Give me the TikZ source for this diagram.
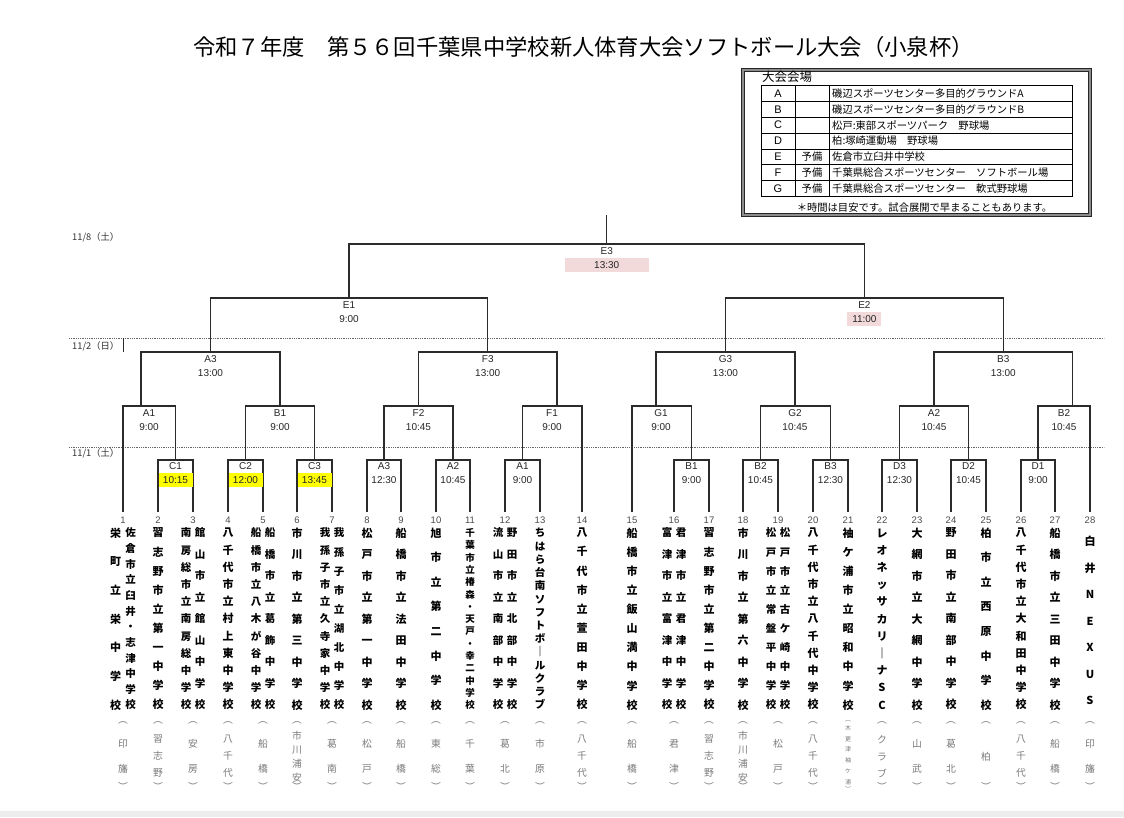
\documentclass[tikz,border=0pt]{standalone}
\usepackage{fontspec}
\newfontfamily\jp{Noto Sans CJK JP}
\newfontfamily\lat{Liberation Sans}
\usetikzlibrary{positioning}
\definecolor{linec}{HTML}{2B2B2B}
\definecolor{hlyellow}{HTML}{FFFF00}
\definecolor{hlpink}{HTML}{F2D9DA}
\definecolor{locgray}{HTML}{7A7A7A}

\begin{document}
\begin{tikzpicture}[x=1pt, y=-1pt,
    brk/.style={draw=linec, line width=1.3pt},
    dayline/.style={draw=black!60, line width=0.7pt, dash pattern=on 0.9pt off 0.9pt},
    mlbl/.style={font=\lat\fontsize{10}{11}\selectfont, text=black!85, inner sep=0pt, text height=7pt, text depth=0pt},
    mtime/.style={mlbl, minimum height=13.5pt},
    nohl/.style={},
    hly/.style={fill=hlyellow, minimum width=34pt},
    hlp/.style={fill=hlpink, minimum width=34pt},
    hlpw/.style={fill=hlpink, minimum width=84pt},
    num/.style={font=\lat\fontsize{9.5}{10}\selectfont, text=black!70, inner sep=0pt},
    tate/.style args={#1/#2}{font=\jp\bfseries\fontsize{#1}{#2}\selectfont, align=center, inner sep=0pt},
    loc/.style={font=\jp\fontsize{9.8}{#1}\selectfont, text=locgray, align=center, inner sep=0pt},
    paren/.style={font=\jp\fontsize{9.8}{10}\selectfont, text=locgray, inner sep=0pt},
    vtxt/.style={font=\jp\fontsize{10.3}{11}\selectfont, inner sep=0pt},
    day/.style={font=\jp\fontsize{9.3}{10}\selectfont, text=black!80, inner sep=0pt, anchor=west}]
    \useasboundingbox (0,0) rectangle (1124,817);
    \fill[white] (0,0) rectangle (1124,817);
    \fill[black!7] (0,811) rectangle (1124,817);

    % title
    \node[font=\jp\fontsize{22.3}{24}\selectfont, inner sep=0pt] (title) at (583.5,47)
        {令和７年度　第５６回千葉県中学校新人体育大会ソフトボール大会（小泉杯）};

    % venue table
    \draw[line width=2.5pt, black!45] (742.5,69.5) rectangle (1089.5,214.5);
    \draw[line width=0.8pt, black!85] (741,68) rectangle (1091,216);
    \draw[line width=0.6pt, black!85] (744,71) rectangle (1088,213);
    \node[font=\jp\fontsize{12.5}{13}\selectfont, inner sep=0pt, anchor=west] (vtitle) at (762,77) {大会会場};
    \draw[line width=0.8pt] (761,85.7) rectangle (1072,196.3);
    \foreach \yy in {101.5,117.3,133.1,148.9,164.7,180.5}
        \draw[line width=0.8pt] (761,\yy) -- (1072,\yy);
    \draw[line width=0.8pt] (795,85.7) -- (795,196.3);
    \draw[line width=0.8pt] (829,85.7) -- (829,196.3);
    \foreach \vk/\yy/\spare/\place in {
        A/93.6//磯辺スポーツセンター多目的グラウンドA,
        B/109.4//磯辺スポーツセンター多目的グラウンドB,
        C/125.2//松戸:東部スポーツパーク　野球場,
        D/141.0//柏:塚崎運動場　野球場,
        E/156.8/予備/佐倉市立臼井中学校,
        F/172.6/予備/千葉県総合スポーツセンター　ソフトボール場,
        G/188.4/予備/千葉県総合スポーツセンター　軟式野球場} {
        \node[font=\lat\fontsize{11}{12}\selectfont, inner sep=0pt] (v\vk) at (778,\yy) {\vk};
        \node[vtxt] (s\vk) at (812,\yy) {\spare};
        \node[vtxt, anchor=west] (p\vk) at (832,\yy) {\place};
    }
    \node[vtxt] (vnote) at (924.5,207.5) {＊時間は目安です。試合展開で早まることもあります。};

    % days
    \node[day] (d8) at (72,237) {11/8（土）};
    \node[day] (d2) at (72,346) {11/2（日）};
    \node[day] (d1) at (72,453) {11/1（土）};
    \draw[dayline] (69,338) -- (1104,338);
    \draw[dayline] (69,447) -- (1104,447);
    \draw[linec, line width=1pt] (123.6,338) -- (123.6,352);

    % teams: numbers and line ends
    \foreach \tno/\tx in {1/123, 2/158, 3/193, 4/228, 5/263, 6/297, 7/332, 8/367,
        9/401, 10/436, 11/470, 12/505, 13/540, 14/582, 15/632, 16/674, 17/709,
        18/743, 19/778, 20/813, 21/848, 22/882, 23/917, 24/951, 25/986, 26/1021,
        27/1055, 28/1090} {
        \coordinate (t\tno) at (\tx,512);
        \node[num] (n\tno) at (\tx,520) {\tno};
    }

    % team names
    \node[tate=10.5/15.64] (s1a) at (130.5,619) {佐\\倉\\市\\立\\臼\\井\\・\\志\\津\\中\\学\\校};
    \node[tate=11/28.67] (s1b) at (115.5,619) {栄\\町\\立\\栄\\中\\学\\校};
    \node[tate=11/19.11] (s2) at (158,619) {習\\志\\野\\市\\立\\第\\一\\中\\学\\校};
    \node[tate=10.5/21.5] (s3a) at (200,619) {館\\山\\市\\立\\館\\山\\中\\学\\校};
    \node[tate=10.5/17.2] (s3b) at (186,619) {南\\房\\総\\市\\立\\南\\房\\総\\中\\学\\校};
    \node[tate=11/17.2] (s4) at (228,619) {八\\千\\代\\市\\立\\村\\上\\東\\中\\学\\校};
    \node[tate=10.5/21.5] (s5a) at (270,619) {船\\橋\\市\\立\\葛\\飾\\中\\学\\校};
    \node[tate=10.5/17.2] (s5b) at (256,619) {船\\橋\\市\\立\\八\\木\\が\\谷\\中\\学\\校};
    \node[tate=11/21.5] (s6) at (297,619) {市\\川\\市\\立\\第\\三\\中\\学\\校};
    \node[tate=10.5/19.11] (s7a) at (339,619) {我\\孫\\子\\市\\立\\湖\\北\\中\\学\\校};
    \node[tate=10.5/17.2] (s7b) at (325,619) {我\\孫\\子\\市\\立\\久\\寺\\家\\中\\学\\校};
    \node[tate=11/21.5] (s8) at (367,619) {松\\戸\\市\\立\\第\\一\\中\\学\\校};
    \node[tate=11/21.5] (s9) at (401,619) {船\\橋\\市\\立\\法\\田\\中\\学\\校};
    \node[tate=11/24.57] (s10) at (436,619) {旭\\市\\立\\第\\二\\中\\学\\校};
    \node[tate=9.5/12.29] (s11) at (470,619) {千\\葉\\市\\立\\椿\\森\\・\\天\\戸\\・\\幸\\二\\中\\学\\校};
    \node[tate=10.5/21.5] (s12a) at (512,619) {野\\田\\市\\立\\北\\部\\中\\学\\校};
    \node[tate=10.5/21.5] (s12b) at (498,619) {流\\山\\市\\立\\南\\部\\中\\学\\校};
    \node[tate=10.5/13.23] (s13) at (540,619) {ち\\は\\ら\\台\\南\\ソ\\フ\\ト\\ボ\\｜\\ル\\ク\\ラ\\ブ};
    \node[tate=11/19.11] (s14) at (582,619) {八\\千\\代\\市\\立\\萱\\田\\中\\学\\校};
    \node[tate=11/19.11] (s15) at (632,619) {船\\橋\\市\\立\\飯\\山\\満\\中\\学\\校};
    \node[tate=10.5/21.5] (s16a) at (681,619) {君\\津\\市\\立\\君\\津\\中\\学\\校};
    \node[tate=10.5/21.5] (s16b) at (667,619) {富\\津\\市\\立\\富\\津\\中\\学\\校};
    \node[tate=11/19.11] (s17) at (709,619) {習\\志\\野\\市\\立\\第\\二\\中\\学\\校};
    \node[tate=11/21.5] (s18) at (743,619) {市\\川\\市\\立\\第\\六\\中\\学\\校};
    \node[tate=10.5/19.11] (s19a) at (785,619) {松\\戸\\市\\立\\古\\ケ\\崎\\中\\学\\校};
    \node[tate=10.5/19.11] (s19b) at (771,619) {松\\戸\\市\\立\\常\\盤\\平\\中\\学\\校};
    \node[tate=11/17.2] (s20) at (813,619) {八\\千\\代\\市\\立\\八\\千\\代\\中\\学\\校};
    \node[tate=11/19.11] (s21) at (848,619) {袖\\ケ\\浦\\市\\立\\昭\\和\\中\\学\\校};
    \node[tate=11/17.2] (s22) at (882,619) {レ\\オ\\ネ\\ッ\\サ\\カ\\リ\\｜\\ナ\\S\\C};
    \node[tate=11/21.5] (s23) at (917,619) {大\\網\\市\\立\\大\\網\\中\\学\\校};
    \node[tate=11/21.5] (s24) at (951,619) {野\\田\\市\\立\\南\\部\\中\\学\\校};
    \node[tate=11/24.57] (s25) at (986,619) {柏\\市\\立\\西\\原\\中\\学\\校};
    \node[tate=11/17.2] (s26) at (1021,619) {八\\千\\代\\市\\立\\大\\和\\田\\中\\学\\校};
    \node[tate=11/21.5] (s27) at (1055,619) {船\\橋\\市\\立\\三\\田\\中\\学\\校};
    \node[tate=11/26.5] (s28) at (1090,620.5) {白\\井\\N\\E\\X\\U\\S};

    % districts
    \foreach \tno/\tx/\tloc/\tsk in {1/123/印\\旛/25, 2/158/習\\志\\野/17, 3/193/安\\房/25,
        4/228/八\\千\\代/17, 5/263/船\\橋/25, 6/297/市\\川\\浦\\安/14, 7/332/葛\\南/25,
        8/367/松\\戸/25, 9/401/船\\橋/25, 10/436/東\\総/25, 11/470/千\\葉/25,
        12/505/葛\\北/25, 13/540/市\\原/25, 14/582/八\\千\\代/17, 15/632/船\\橋/25,
        16/674/君\\津/25, 17/709/習\\志\\野/17, 18/743/市\\川\\浦\\安/14, 19/778/松\\戸/25,
        20/813/八\\千\\代/17, 22/882/ク\\ラ\\ブ/17, 23/917/山\\武/25, 24/951/葛\\北/25,
        25/986/柏/25, 26/1021/八\\千\\代/17, 27/1055/船\\橋/25, 28/1090/印\\旛/25} {
        \node[paren] (po\tno) at (\tx,723) {︵};
        \node[loc=\tsk] (w\tno) at (\tx,756.5) {\tloc};
        \node[paren] (pc\tno) at (\tx,786) {︶};
    }
    \node[paren, font=\jp\fontsize{6}{6}\selectfont] (po21) at (848,721) {︵};
    \node[loc=10.8, font=\jp\fontsize{6}{10.8}\selectfont] (w21) at (848,755) {木\\更\\津\\袖\\ケ\\浦};
    \node[paren, font=\jp\fontsize{6}{6}\selectfont] (pc21) at (848,789) {︶};

    % round 1
    \coordinate (r1-1) at (175.5,460);
    \coordinate (r1-2) at (245.5,460);
    \coordinate (r1-3) at (314.5,460);
    \coordinate (r1-4) at (384,460);
    \coordinate (r1-5) at (453,460);
    \coordinate (r1-6) at (522.5,460);
    \coordinate (r1-7) at (691.5,460);
    \coordinate (r1-8) at (760.5,460);
    \coordinate (r1-9) at (830.5,460);
    \coordinate (r1-10) at (899.5,460);
    \coordinate (r1-11) at (968.5,460);
    \coordinate (r1-12) at (1038,460);
    \draw[brk] (t2) |- (r1-1) -| (t3);
    \draw[brk] (t4) |- (r1-2) -| (t5);
    \draw[brk] (t6) |- (r1-3) -| (t7);
    \draw[brk] (t8) |- (r1-4) -| (t9);
    \draw[brk] (t10) |- (r1-5) -| (t11);
    \draw[brk] (t12) |- (r1-6) -| (t13);
    \draw[brk] (t16) |- (r1-7) -| (t17);
    \draw[brk] (t18) |- (r1-8) -| (t19);
    \draw[brk] (t20) |- (r1-9) -| (t21);
    \draw[brk] (t22) |- (r1-10) -| (t23);
    \draw[brk] (t24) |- (r1-11) -| (t25);
    \draw[brk] (t26) |- (r1-12) -| (t27);

    % round 2
    \coordinate (r2-1) at (141,406);
    \coordinate (r2-2) at (280,406);
    \coordinate (r2-3) at (418.5,406);
    \coordinate (r2-4) at (557,406);
    \coordinate (r2-5) at (656,406);
    \coordinate (r2-6) at (795,406);
    \coordinate (r2-7) at (934,406);
    \coordinate (r2-8) at (1072.5,406);
    \draw[brk] (t1) |- (r2-1) -| (r1-1);
    \draw[brk] (r1-2) |- (r2-2) -| (r1-3);
    \draw[brk] (r1-4) |- (r2-3) -| (r1-5);
    \draw[brk] (r1-6) |- (r2-4) -| (t14);
    \draw[brk] (t15) |- (r2-5) -| (r1-7);
    \draw[brk] (r1-8) |- (r2-6) -| (r1-9);
    \draw[brk] (r1-10) |- (r2-7) -| (r1-11);
    \draw[brk] (r1-12) |- (r2-8) -| (t28);

    % round 3 and up
    \coordinate (r3-1) at (210.5,352);
    \coordinate (r3-2) at (487.75,352);
    \coordinate (r3-3) at (725.5,352);
    \coordinate (r3-4) at (1003.25,352);
    \draw[brk] (r2-1) |- (r3-1) -| (r2-2);
    \draw[brk] (r2-3) |- (r3-2) -| (r2-4);
    \draw[brk] (r2-5) |- (r3-3) -| (r2-6);
    \draw[brk] (r2-7) |- (r3-4) -| (r2-8);
    \coordinate (r4-1) at (349,298);
    \coordinate (r4-2) at (864.4,298);
    \draw[brk] (r3-1) |- (r4-1) -| (r3-2);
    \draw[brk] (r3-3) |- (r4-2) -| (r3-4);
    \coordinate (r5) at (606.7,244);
    \coordinate (r5top) at (606.7,215);
    \draw[brk] (r4-1) |- (r5) -| (r4-2);
    \draw[brk] (r5) -- (r5top);

    % match labels
    \foreach \nm/\lx/\ly/\txt/\tm/\hl in {
        r1-1/175.5/466/C1/10:15/hly, r1-2/245.5/466/C2/12:00/hly, r1-3/314.5/466/C3/13:45/hly,
        r1-4/384/466/A3/12:30/nohl, r1-5/453/466/A2/10:45/nohl, r1-6/522.5/466/A1/9:00/nohl,
        r1-7/691.5/466/B1/9:00/nohl, r1-8/760.5/466/B2/10:45/nohl, r1-9/830.5/466/B3/12:30/nohl,
        r1-10/899.5/466/D3/12:30/nohl, r1-11/968.5/466/D2/10:45/nohl, r1-12/1038/466/D1/9:00/nohl,
        r2-1/149/413/A1/9:00/nohl, r2-2/280/413/B1/9:00/nohl, r2-3/418.5/413/F2/10:45/nohl,
        r2-4/552/413/F1/9:00/nohl, r2-5/661/413/G1/9:00/nohl, r2-6/795/413/G2/10:45/nohl,
        r2-7/934/413/A2/10:45/nohl, r2-8/1064/413/B2/10:45/nohl,
        r3-1/210.5/359/A3/13:00/nohl, r3-2/487.75/359/F3/13:00/nohl,
        r3-3/725.5/359/G3/13:00/nohl, r3-4/1003.25/359/B3/13:00/nohl,
        r4-1/349/305/E1/9:00/nohl, r4-2/864.4/305/E2/11:00/hlp,
        r5/606.7/251/E3/13:30/hlpw} {
        \node[mlbl] (l\nm) at (\lx,\ly) {\txt};
        \node[mtime, \hl, below=3.5pt of l\nm] (m\nm) {\tm};
    }
\end{tikzpicture}
\end{document}
